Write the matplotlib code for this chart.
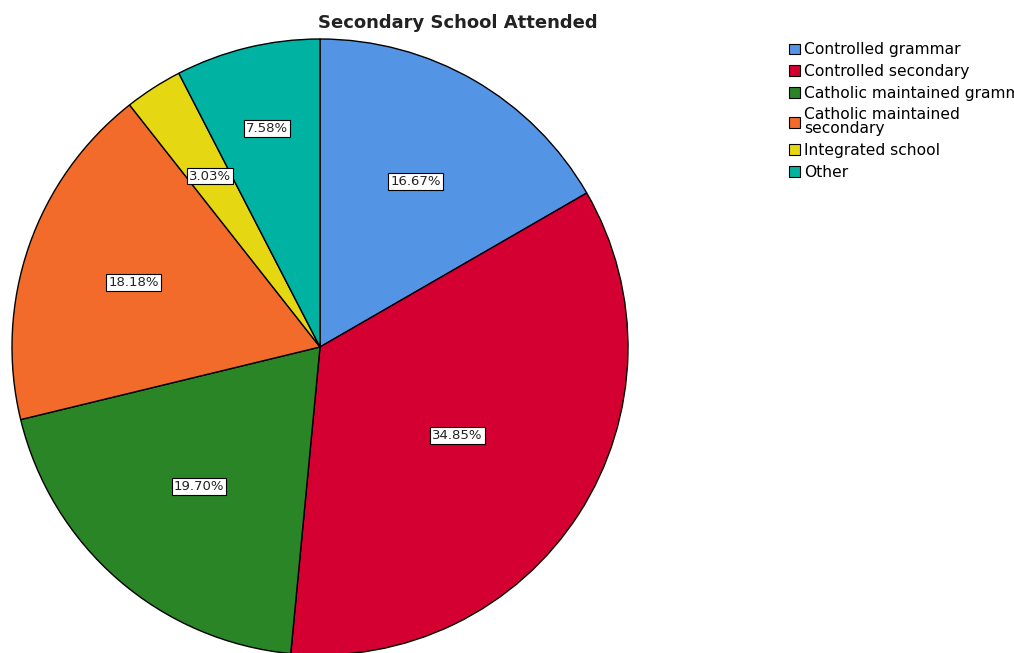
import numpy as np
import matplotlib.pyplot as plt
from matplotlib.patches import Patch

categories = ["Controlled grammar", "Controlled secondary", "Catholic maintained grammar",
              "Catholic maintained\nsecondary", "Integrated school", "Other"]
percents = [16.67, 34.85, 19.70, 18.18, 3.03, 7.58]
colors = ['#5394E5', '#D50032', '#2A8527', '#F26B2B', '#E5D813', '#00B2A1']
label_r = [0.62, 0.53, 0.6, 0.64, 0.66, 0.73]

fig = plt.figure(figsize=(10.14, 6.53), dpi=100)
ax = fig.add_axes([0, 0, 1, 1])

cx, cy, R = 320, 306, 308
wedges, _ = ax.pie(percents, colors=colors, startangle=90, counterclock=False,
                   center=(cx, cy), radius=R, frame=True,
                   wedgeprops=dict(edgecolor='black', linewidth=1.0))
ax.set_xlim(0, 1014)
ax.set_ylim(0, 653)
ax.set_aspect('equal')
ax.axis('off')

for w, p, r in zip(wedges, percents, label_r):
    ang = np.deg2rad((w.theta1 + w.theta2) / 2)
    ax.text(cx + r * R * np.cos(ang), cy + r * R * np.sin(ang), f"{p:.2f}%",
            ha='center', va='center', fontsize=9.5, color='#222222',
            bbox=dict(boxstyle='square,pad=0.15', fc='white', ec='black', lw=0.8))

fig.text(0.451, 0.965, "Secondary School Attended", ha='center', va='center',
         fontsize=13, fontweight='bold', color='#222222')

handles = [Patch(facecolor=c, edgecolor='black', linewidth=0.8) for c in colors]
leg = fig.legend(handles, categories, loc='upper left', bbox_to_anchor=(0.778, 0.935),
                 frameon=False, fontsize=11.2, handlelength=0.7, handleheight=0.7,
                 handletextpad=0.3, labelspacing=0.42, borderpad=0, borderaxespad=0)
for t in leg.get_texts():
    t.set_linespacing(0.95)

fig.savefig('out.png', dpi=100)
